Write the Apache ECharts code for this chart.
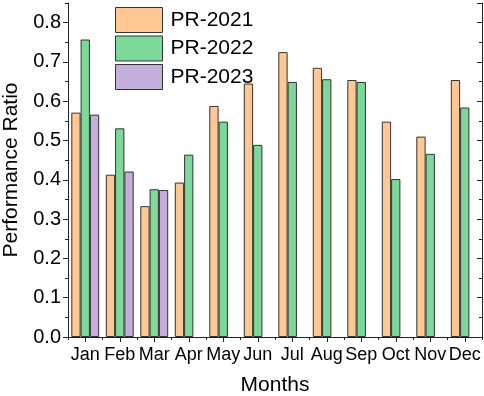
<!DOCTYPE html>
<html>
<head>
<meta charset="utf-8">
<script src="https://cdn.jsdelivr.net/npm/echarts@6/dist/echarts.min.js"></script>
<style type="text/css">
     body{ margin:0; }
     #pr_chart{ width:484px; height:396px; }
</style>
</head>
<body>
<div id="pr_chart"></div>
<script>
	//月份
	var months = ['Jan','Feb','Mar','Apr','May','Jun','Jul','Aug','Sep','Oct','Nov','Dec'];
	//各年份性能比
	var pr2021 = [0.571,0.413,0.333,0.393,0.588,0.645,0.725,0.685,0.654,0.548,0.510,0.654];
	var pr2022 = [0.757,0.531,0.376,0.464,0.548,0.489,0.649,0.656,0.649,0.402,0.466,0.584];
	var pr2023 = [0.566,0.421,0.374,null,null,null,null,null,null,null,null,null];
	var yTicks = [0,0.1,0.2,0.3,0.4,0.5,0.6,0.7,0.8];

	var font = 'Liberation Sans, Arial, sans-serif';
	var line = {show:true, lineStyle:{color:'#222', width:1}};
	var barBorder = {borderColor:'#333', borderWidth:1};

	function tickAxis(pos, isX, interval, len, inside, withLine){
		var ax = {
			type:'value', position:pos, min:0, max: isX ? 12 : 0.85, interval:interval,
			axisLine: withLine ? line : {show:false},
			axisTick:{show:true, inside:inside, length:len, lineStyle:{color:'#222'}},
			axisLabel:{show:false}, splitLine:{show:false}
		};
		return ax;
	}

	var option = {
		animation:false,
		textStyle:{fontFamily:font},
		grid:{left:68, right:2, top:3, bottom:59, outerBoundsMode:'none', containLabel:false},
		legend:{
			orient:'vertical', left:110, top:2,
			itemWidth:47, itemHeight:25, itemGap:2.5,
			icon:'rect',
			itemStyle:barBorder,
			textStyle:{fontSize:21, color:'#000', fontFamily:font, padding:[0,0,0,3]},
			data:['PR-2021','PR-2022','PR-2023']
		},
		xAxis:[
			{
				type:'category', data:months, position:'bottom',
				axisLine:line,
				axisTick:{show:true, alignWithLabel:true, length:5, lineStyle:{color:'#222'}},
				axisLabel:{fontSize:18, color:'#000', margin:9, interval:0},
				name:'Months', nameLocation:'middle', nameGap:38,
				nameTextStyle:{fontSize:21, color:'#000'}
			},
			tickAxis('bottom', true, 1, 3, false, false),
			{
				type:'category', data:months, position:'top',
				axisLine:line,
				axisTick:{show:true, inside:true, alignWithLabel:true, length:5, lineStyle:{color:'#222'}},
				axisLabel:{show:false}
			},
			tickAxis('top', true, 1, 3, true, false)
		],
		yAxis:[
			{
				type:'value', position:'left', min:0, max:0.85, interval:0.1,
				axisLine:line,
				axisTick:{show:true, length:5, lineStyle:{color:'#222'}},
				axisLabel:{fontSize:20, color:'#000', margin:7, showMaxLabel:false,
					formatter:function(v){ return yTicks.indexOf(Math.round(v*10)/10) >= 0 ? v.toFixed(1) : ''; }},
				splitLine:{show:false},
				name:'Performance Ratio', nameLocation:'middle', nameGap:46,
				nameTextStyle:{fontSize:21, color:'#000'}
			},
			tickAxis('left', false, 0.05, 3, false, false),
			tickAxis('right', false, 0.1, 5, true, true),
			tickAxis('right', false, 0.05, 3, true, false)
		],
		series:[
			{name:'PR-2021', type:'bar', barWidth:9.3, barGap:'0%', data:pr2021,
				itemStyle:{color:'#FFC893', borderColor:'#333', borderWidth:1}},
			{name:'PR-2022', type:'bar', barWidth:9.3, barGap:'0%', data:pr2022,
				itemStyle:{color:'#7DD99A', borderColor:'#333', borderWidth:1}},
			{name:'PR-2023', type:'bar', barWidth:9.3, barGap:'0%', data:pr2023,
				itemStyle:{color:'#C5AEDB', borderColor:'#333', borderWidth:1}}
		]
	};

	var pr_chart = echarts.init(document.getElementById('pr_chart'));
	pr_chart.setOption(option);
</script>
</body>
</html>
